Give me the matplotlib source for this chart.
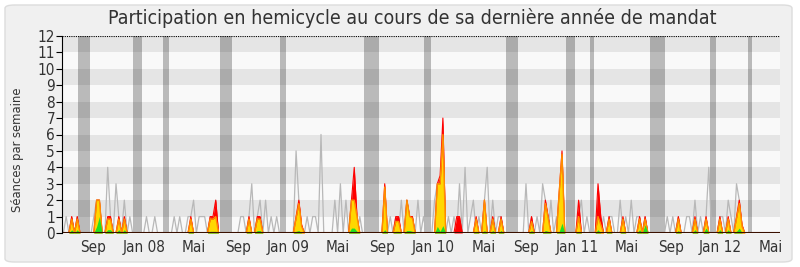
import matplotlib
matplotlib.use("Agg")
import matplotlib.pyplot as plt
import numpy as np
from matplotlib.patches import FancyBboxPatch

plt.rcParams["font.family"] = ["DejaVu Sans"]
plt.rcParams["font.stretch"] = "condensed"

n_weeks = 259

# séances en hémicycle (ligne grise), semaine -> valeur
gray_weeks = [1, 3, 5, 11, 12, 13, 16, 17, 19, 20,
              22, 24, 30, 33, 40, 42, 45, 46, 47, 49,
              50, 51, 53, 55, 64, 65, 67, 68, 70, 71,
              73, 75, 77, 84, 85, 88, 90, 91, 93, 98,
              100, 102, 104, 105, 107, 116, 118, 120, 122, 124,
              125, 126, 128, 130, 134, 135, 137, 139, 141, 143,
              145, 147, 148, 150, 152, 153, 155, 157, 158, 167,
              169, 171, 173, 174, 176, 178, 180, 186, 187, 189,
              193, 195, 197, 198, 201, 203, 205, 207, 208, 210,
              218, 220, 222, 225, 226, 228, 230, 232, 233, 237,
              238, 240, 241, 243, 244]
gray_vals = [1, 1, 1, 1, 2, 2, 4, 1, 3, 1,
             2, 1, 1, 1, 1, 1, 1, 1, 2, 1,
             1, 1, 1, 2, 1, 1, 1, 3, 1, 2,
             2, 1, 1, 5, 2, 1, 1, 1, 6, 2,
             3, 2, 2, 3, 1, 2, 1, 1, 2, 2,
             1, 1, 2, 1, 2, 3, 5, 1, 1, 3,
             4, 1, 2, 1, 2, 4, 2, 1, 1, 3,
             1, 1, 3, 2, 2, 1, 3, 1, 2, 1,
             2, 1, 1, 1, 2, 1, 2, 1, 1, 1,
             1, 1, 1, 1, 1, 2, 1, 1, 4, 1,
             1, 2, 1, 3, 2]

# présences du député (rouge / jaune / vert)
pres_weeks = [3, 5, 12, 13, 16, 17, 20, 22, 46, 53,
              54, 55, 67, 70, 71, 84, 85, 86, 104, 105,
              106, 116, 120, 121, 124, 125, 126, 135, 136, 137,
              142, 143, 149, 152, 155, 158, 169, 174, 175, 179,
              180, 186, 193, 194, 197, 202, 208, 210, 222, 228,
              232, 237, 240, 243, 244, 245]
red_vals = [1, 1, 2, 2, 1, 1, 1, 1, 1, 1,
            1, 2, 1, 1, 1, 1, 2, 0.5, 2, 4,
            1, 3, 1, 1, 2, 1, 1, 3, 3.5, 7,
            1, 1, 1, 2, 1, 1, 1, 2, 1, 2.5,
            5, 2, 3, 1, 1, 1, 1, 1, 1, 1,
            1, 1, 1, 1, 2, 0.5]
yellow_vals = [0.85, 0.85, 2, 2, 0.85, 0.85, 0.85, 0.85, 0.85, 0.85,
               0.85, 1, 0.85, 0.85, 0.85, 0.9, 1.8, 0.4, 2, 2,
               1, 2.8, 0.7, 0.7, 2, 1, 0.9, 3, 3, 6,
               0, 0, 0.85, 2, 0.85, 0.85, 0.7, 1.8, 0.9, 2.5,
               4.8, 1, 1, 0.5, 0.85, 0.85, 0.85, 0.85, 0.85, 0.85,
               0.85, 0.85, 0.85, 0.9, 1.8, 0.4]
green_vals = [0.2, 0.2, 0.4, 1.0, 0.2, 0.2, 0.2, 0.2, 0.1, 0.1,
              0.1, 0.1, 0.1, 0.15, 0.15, 0.1, 0.15, 0, 0.3, 0.3,
              0.1, 0.2, 0.1, 0.1, 0.15, 0.15, 0.1, 0.4, 0.1, 0.45,
              0, 0, 0.1, 0.15, 0.15, 0.15, 0.15, 0.15, 0.1, 0.1,
              0.6, 0.1, 0.2, 0, 0.1, 0.1, 0.2, 0.5, 0.15, 0.2,
              0.3, 0.2, 0.2, 0.1, 0.3, 0]

# vacances parlementaires (en semaines)
vac_start = [5.3, 25.1, 36.0, 56.5, 78.2, 108.5, 130.2, 159.8, 181.5, 190.1, 211.8, 233.4, 247.2]
vac_end = [9.6, 28.4, 38.1, 60.9, 80.4, 113.9, 132.7, 164.1, 184.7, 191.6, 217.2, 235.6, 248.6]

month_pos = [10.7, 29.0, 46.9, 63.0, 81.3, 99.1, 114.9, 133.5, 151.6, 166.9,
             185.6, 203.4, 219.3, 237.3, 255.3]
month_labels = ["Sep", "Jan 08", "Mai", "Sep", "Jan 09", "Mai", "Sep", "Jan 10", "Mai",
                "Sep", "Jan 11", "Mai", "Sep", "Jan 12", "Mai"]

weeks = np.arange(n_weeks)
gray = np.zeros(n_weeks)
gray[gray_weeks] = gray_vals
red = np.zeros(n_weeks)
red[pres_weeks] = red_vals
yellow = np.zeros(n_weeks)
yellow[pres_weeks] = yellow_vals
green = np.zeros(n_weeks)
green[pres_weeks] = green_vals

fig = plt.figure(figsize=(8, 2.67), dpi=100)
fig.patch.set_facecolor("white")
border = FancyBboxPatch((5 / 800, 5 / 267), 787 / 800, 257 / 267,
                        boxstyle="round,pad=0,rounding_size=0.012",
                        transform=fig.transFigure, facecolor="#f0f0f0",
                        edgecolor="#dcdcdc", linewidth=1, zorder=-10)
fig.patches.append(border)

ax = fig.add_axes([62 / 800, 34 / 267, 718 / 800, 197 / 267])
ax.set_zorder(2)
ax.set_facecolor("#f9f9f9")
for k in range(1, 12, 2):
    ax.axhspan(k, k + 1, color="#e5e5e5", lw=0, zorder=0)
for s, e in zip(vac_start, vac_end):
    ax.axvspan(s, e, color="black", alpha=0.25, lw=0, zorder=1)

ax.plot(weeks, gray, color="#b8b8b8", lw=0.9, zorder=2)
ax.fill_between(weeks, red, color="#ff0000", lw=0, zorder=3)
ax.plot(weeks, red, color="#ff0000", lw=0.8, zorder=3)
ax.fill_between(weeks, yellow, color="#ffd700", lw=0, zorder=4)
ax.plot(weeks, yellow, color="#ff8c00", lw=1, zorder=4)
ax.fill_between(weeks, green, color="#22e022", lw=0, zorder=5)
ax.axhline(0, color="#3a1000", lw=1.5, zorder=6)
ax.axhline(12, color="black", lw=0.8, ls=(0, (1, 1)), zorder=6)

ax.set_xlim(-0.5, 258.7)
ax.set_ylim(0, 12)
for side in ["top", "right", "bottom"]:
    ax.spines[side].set_visible(False)
ax.spines["left"].set_color("black")
ax.spines["left"].set_zorder(7)
ax.set_yticks(range(13))
ax.tick_params(axis="y", direction="out", length=4, labelsize=11, pad=1)
ax.set_xticks(month_pos)
ax.set_xticklabels(month_labels)
ax.tick_params(axis="x", length=0, labelsize=11, pad=5, colors="#333333")
ax.tick_params(axis="y", colors="black", labelcolor="#333333")

fig.text(18 / 800, 1 - 150 / 267, "Séances par semaine", rotation=90,
         ha="center", va="center", fontsize=9.3, color="#333333")
fig.text(412 / 800, 1 - 18 / 267,
         "Participation en hemicycle au cours de sa dernière année de mandat",
         ha="center", va="center", fontsize=14, color="#333333")

fig.savefig("out.png", dpi=100)
